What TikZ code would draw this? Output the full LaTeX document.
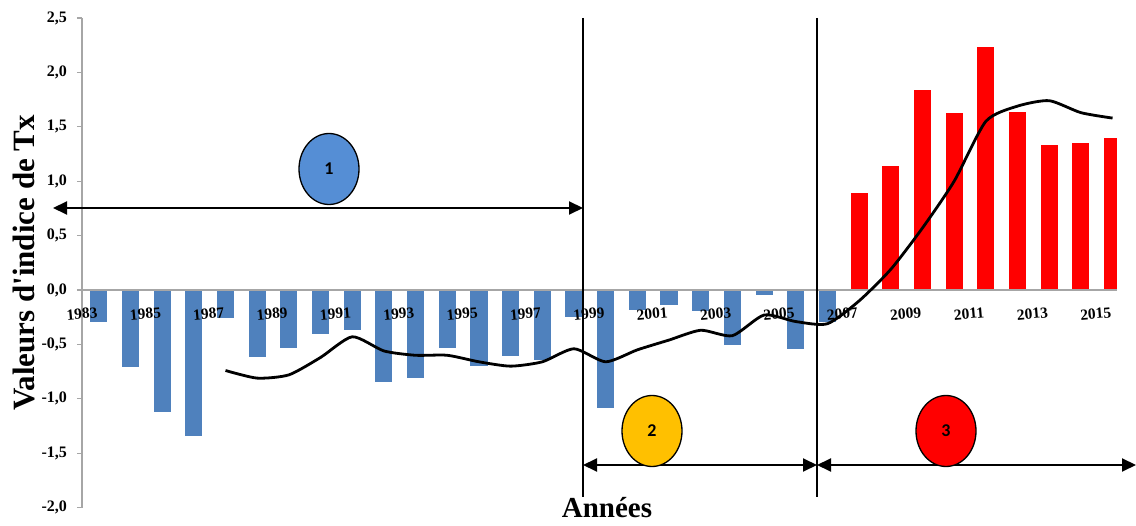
\documentclass[tikz,border=0pt]{standalone}
\usepackage{fontspec}
\setmainfont{Liberation Serif}
\newfontfamily\calibrifont{Carlito}
\usepackage{tikz}
\usetikzlibrary{arrows.meta}
\usetikzlibrary{shapes}
\definecolor{excelblue}{HTML}{4F81BD}
\definecolor{circleblue}{HTML}{558ED5}
\definecolor{circleyellow}{HTML}{FFC000}
\definecolor{axisgray}{HTML}{A6A6A6}
\tikzstyle{negativebar}=[fill=excelblue]
\tikzstyle{positivebar}=[fill=red]
\tikzstyle{axisline}=[draw=axisgray,line width=1.2pt]
\tikzstyle{ticklabel}=[anchor=east,inner sep=0pt,font=\bfseries\fontsize{16}{16}\selectfont]
\tikzstyle{yearlabel}=[inner sep=0pt,rotate=5,font=\bfseries\fontsize{15.5}{15.5}\selectfont]
\tikzstyle{trendline}=[line width=2.8pt,line join=round]
\tikzstyle{separator}=[line width=1.5pt]
\tikzstyle{periodarrow}=[line width=2pt,{Triangle[length=14pt,width=13pt]}-{Triangle[length=14pt,width=13pt]}]
\tikzstyle{periodmark}=[ellipse,draw=black,line width=1.3pt,minimum width=60pt,minimum height=71pt,inner sep=0pt,font=\calibrifont\bfseries\fontsize{18}{18}\selectfont]
\tikzstyle{axistitle}=[inner sep=0pt,font=\bfseries\fontsize{31}{31}\selectfont]

\begin{document}
\begin{tikzpicture}[x=1pt,y=-1pt]
		\useasboundingbox (0,0) rectangle (1136,526);
		\begin{scope}[shift={(82,290)},x=31.68pt,y=108.8pt]
			\begin{scope}
				\clip (-0.1,-2.1) rectangle (32.67,2.6);
				\foreach \n/\v in {0/-0.29,1/-0.71,2/-1.12,3/-1.34,4/-0.26,5/-0.62,6/-0.53,7/-0.40,8/-0.37,9/-0.85,10/-0.81,11/-0.53,12/-0.70,13/-0.61,14/-0.64,15/-0.25,16/-1.08,17/-0.18,18/-0.14,19/-0.19,20/-0.51,21/-0.05,22/-0.54,23/-0.29}
					\fill[negativebar] (\n+0.26,0) rectangle (\n+0.80,\v);
				\foreach \n/\v in {24/0.89,25/1.14,26/1.84,27/1.63,28/2.23,29/1.64,30/1.33,31/1.35,32/1.40}
					\fill[positivebar] (\n+0.26,0) rectangle (\n+0.80,\v);
			\end{scope}
			\draw[axisline] (0,0) -- (32.67,0);
			\draw[axisline] (0,-2) -- (0,2.5);
			\foreach \v/\t in {2.5/2{,}5,2/2{,}0,1.5/1{,}5,1/1{,}0,0.5/0{,}5,0/0{,}0,-0.5/-0{,}5,-1/-1{,}0,-1.5/-1{,}5,-2/-2{,}0}
			{
				\draw[axisline] (-0.16,\v) -- (0,\v);
				\node[ticklabel] (tick\v) at (-0.47,\v) {\t};
			}
			\foreach \n/\y in {0/1983,2/1985,4/1987,6/1989,8/1991,10/1993,12/1995,14/1997,16/1999,18/2001,20/2003,22/2005,24/2007,26/2009,28/2011,30/2013,32/2015}
				\node[yearlabel] (year\y) at (\n,-0.22) {\y};
			\draw[trendline] plot[smooth,tension=0.4] coordinates {(4.53,-0.74) (5.53,-0.81) (6.53,-0.78) (7.53,-0.62) (8.53,-0.43) (9.53,-0.56) (10.53,-0.60) (11.53,-0.60) (12.53,-0.66) (13.53,-0.70) (14.53,-0.66) (15.53,-0.54) (16.53,-0.66) (17.53,-0.55) (18.53,-0.46) (19.53,-0.37) (20.53,-0.42) (21.53,-0.23) (22.53,-0.29) (23.53,-0.31) (24.53,-0.10) (25.53,0.19) (26.53,0.57) (27.53,1.00) (28.53,1.55) (29.53,1.69) (30.53,1.74) (31.53,1.63) (32.53,1.58)};
		\end{scope}
		\coordinate (sepatop) at (583,18);
		\coordinate (sepabot) at (583,497);
		\coordinate (sepbtop) at (817,18);
		\coordinate (sepbbot) at (817,497);
		\draw[separator] (sepatop) -- (sepabot);
		\draw[separator] (sepbtop) -- (sepbbot);
		\coordinate (arrowoneleft) at (53,208);
		\coordinate (arrowoneright) at (583,208);
		\coordinate (arrowtwoleft) at (583,465);
		\coordinate (arrowtworight) at (817,465);
		\coordinate (arrowthreeleft) at (817,465);
		\coordinate (arrowthreeright) at (1136,465);
		\draw[periodarrow] (arrowoneleft) -- (arrowoneright);
		\draw[periodarrow] (arrowtwoleft) -- (arrowtworight);
		\draw[periodarrow] (arrowthreeleft) -- (arrowthreeright);
		\node[periodmark,fill=circleblue] (periodone) at (329,169) {1};
		\node[periodmark,fill=circleyellow] (periodtwo) at (652,431) {2};
		\node[periodmark,fill=red] (periodthree) at (946,431) {3};
		\node[axistitle,rotate=90] (ytitle) at (24,263) {Valeurs d\textquotesingle indice de Tx};
		\node[axistitle,anchor=base,font=\bfseries\fontsize{29}{29}\selectfont] (xtitle) at (607,518) {Années};
	\end{tikzpicture}
\end{document}
